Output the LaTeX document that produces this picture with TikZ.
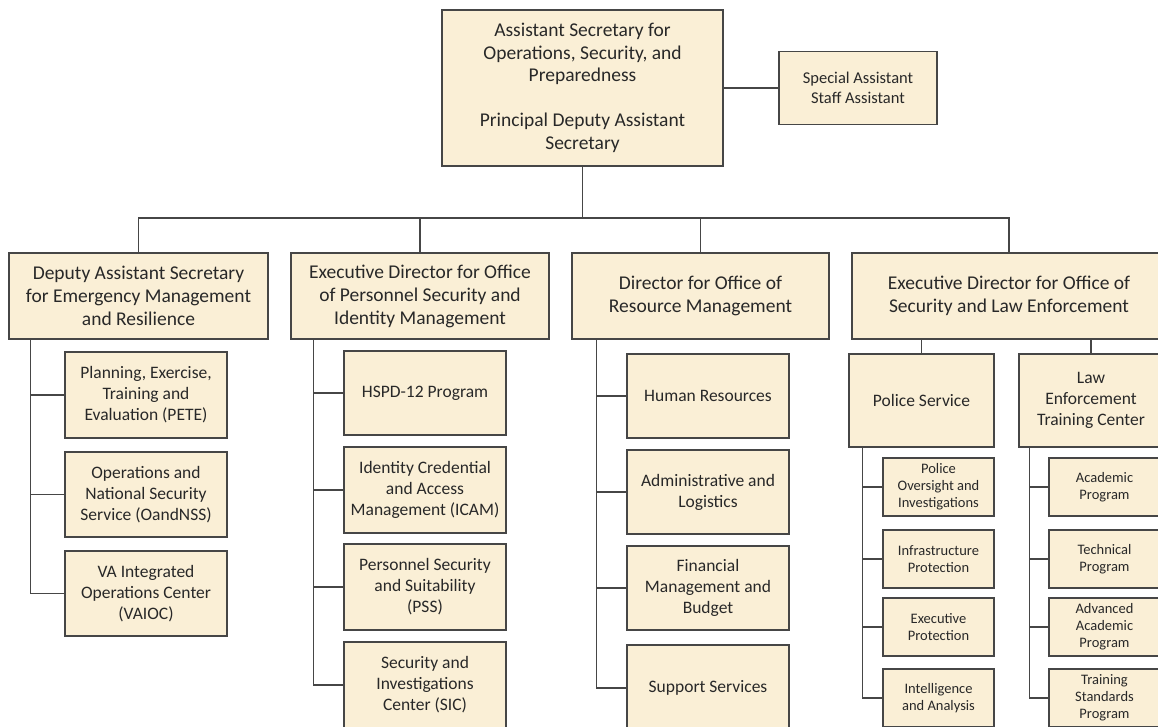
\documentclass[tikz,border=0pt]{standalone}
\usepackage{fontspec}
\setmainfont{Carlito}
\definecolor{boxfill}{RGB}{250,239,214}
\definecolor{boxline}{RGB}{70,70,70}
\definecolor{txt}{RGB}{40,40,40}
\begin{document}
\begin{tikzpicture}[x=1pt,y=-1pt,
  box/.style={draw=boxline, line width=1.3pt, fill=boxfill, text=txt, inner sep=0pt, align=center},
  topbox/.style={box, font=\fontsize{19.5}{22.5}\selectfont},
  headbox/.style={box, font=\fontsize{19.5}{23}\selectfont},
  unitbox/.style={box, font=\fontsize{17.5}{21}\selectfont},
  specbox/.style={box, font=\fontsize{16.5}{20}\selectfont},
  smallbox/.style={box, font=\fontsize{14.5}{17}\selectfont},
  link/.style={draw=boxline, line width=1.3pt}]
\useasboundingbox (0,0) rectangle (1158,726);
\clip (0,0) rectangle (1158,726);

% top level
\node[topbox, minimum width=281pt, minimum height=156pt] (asec) at (582.5,88)
  {Assistant Secretary for\\Operations, Security, and\\Preparedness\\[22.5pt]Principal Deputy Assistant\\Secretary};
\node[specbox, minimum width=158pt, minimum height=73pt] (spec) at (858,88)
  {Special Assistant\\Staff Assistant};

% column heads
\node[headbox, minimum width=259pt, minimum height=86pt] (c1) at (138.5,296)
  {Deputy Assistant Secretary\\for Emergency Management\\and Resilience};
\node[headbox, minimum width=258pt, minimum height=86pt] (c2) at (420,296)
  {Executive Director for Office\\of Personnel Security and\\Identity Management};
\node[headbox, minimum width=257pt, minimum height=86pt] (c3) at (700.5,296)
  {Director for Office of\\Resource Management};
\node[headbox, minimum width=314pt, minimum height=86pt] (c4) at (1009,296)
  {Executive Director for Office of\\Security and Law Enforcement};

% column 1 children
\node[unitbox, minimum width=162pt, minimum height=86pt] (c1a) at (146,395)
  {Planning, Exercise,\\Training and\\Evaluation (PETE)};
\node[unitbox, minimum width=162pt, minimum height=85pt] (c1b) at (146,494.5)
  {Operations and\\National Security\\Service (OandNSS)};
\node[unitbox, minimum width=162pt, minimum height=85pt] (c1c) at (146,593.5)
  {VA Integrated\\Operations Center\\(VAIOC)};

% column 2 children
\node[unitbox, minimum width=162pt, minimum height=84pt] (c2a) at (425,393)
  {HSPD-12 Program};
\node[unitbox, minimum width=162pt, minimum height=86pt] (c2b) at (425,490)
  {Identity Credential\\and Access\\Management (ICAM)};
\node[unitbox, minimum width=162pt, minimum height=86pt] (c2c) at (425,587)
  {Personnel Security\\and Suitability\\(PSS)};
\node[unitbox, minimum width=162pt, minimum height=86pt] (c2d) at (425,685)
  {Security and\\Investigations\\Center (SIC)};

% column 3 children
\node[unitbox, minimum width=162pt, minimum height=84pt] (c3a) at (708,396)
  {Human Resources};
\node[unitbox, minimum width=162pt, minimum height=84pt] (c3b) at (708,492)
  {Administrative and\\Logistics};
\node[unitbox, minimum width=162pt, minimum height=84pt] (c3c) at (708,588)
  {Financial\\Management and\\Budget};
\node[unitbox, minimum width=162pt, minimum height=86pt] (c3d) at (708,688)
  {Support Services};

% column 4 sub-units
\node[unitbox, minimum width=145pt, minimum height=93pt] (ps) at (921.5,400.5)
  {Police Service};
\node[unitbox, minimum width=144pt, minimum height=93pt] (letc) at (1091,400.5)
  {Law\\Enforcement\\Training Center};

\node[smallbox, minimum width=111pt, minimum height=58pt] (psa) at (938.5,487)
  {Police\\Oversight and\\Investigations};
\node[smallbox, minimum width=111pt, minimum height=58pt] (psb) at (938.5,559)
  {Infrastructure\\Protection};
\node[smallbox, minimum width=111pt, minimum height=58pt] (psc) at (938.5,627)
  {Executive\\Protection};
\node[smallbox, minimum width=111pt, minimum height=58pt] (psd) at (938.5,698)
  {Intelligence\\and Analysis};

\node[smallbox, minimum width=111pt, minimum height=58pt] (la) at (1104.5,487)
  {Academic\\Program};
\node[smallbox, minimum width=111pt, minimum height=58pt] (lb) at (1104.5,559)
  {Technical\\Program};
\node[smallbox, minimum width=111pt, minimum height=58pt] (lc) at (1104.5,627)
  {Advanced\\Academic\\Program};
\node[smallbox, minimum width=111pt, minimum height=58pt] (ld) at (1104.5,698)
  {Training\\Standards\\Program};

% connectors
\draw[link] (asec.east) -- (spec.west);
\coordinate (bus) at (582.5,218);
\draw[link] (asec.south) -- (bus);
\draw[link] (c1.north) |- (bus) -| (c4.north);
\draw[link] (c2.north) -- (c2.north |- bus);
\draw[link] (c3.north) -- (c3.north |- bus);

\coordinate (b1) at ([xshift=22pt]c1.south west);
\draw[link] (b1) |- (c1a.west);
\draw[link] (b1) |- (c1b.west);
\draw[link] (b1) |- (c1c.west);

\coordinate (b2) at ([xshift=23pt]c2.south west);
\draw[link] (b2) |- (c2a.west);
\draw[link] (b2) |- (c2b.west);
\draw[link] (b2) |- (c2c.west);
\draw[link] (b2) |- (c2d.west);

\coordinate (b3) at ([xshift=25pt]c3.south west);
\draw[link] (b3) |- (c3a.west);
\draw[link] (b3) |- (c3b.west);
\draw[link] (b3) |- (c3c.west);
\draw[link] (b3) |- (c3d.west);

\draw[link] (c4.south -| ps.north) -- (ps.north);
\draw[link] (c4.south -| letc.north) -- (letc.north);

\coordinate (b4) at ([xshift=14pt]ps.south west);
\draw[link] (b4) |- (psa.west);
\draw[link] (b4) |- (psb.west);
\draw[link] (b4) |- (psc.west);
\draw[link] (b4) |- (psd.west);

\coordinate (b5) at ([xshift=11pt]letc.south west);
\draw[link] (b5) |- (la.west);
\draw[link] (b5) |- (lb.west);
\draw[link] (b5) |- (lc.west);
\draw[link] (b5) |- (ld.west);
\end{tikzpicture}
\end{document}
